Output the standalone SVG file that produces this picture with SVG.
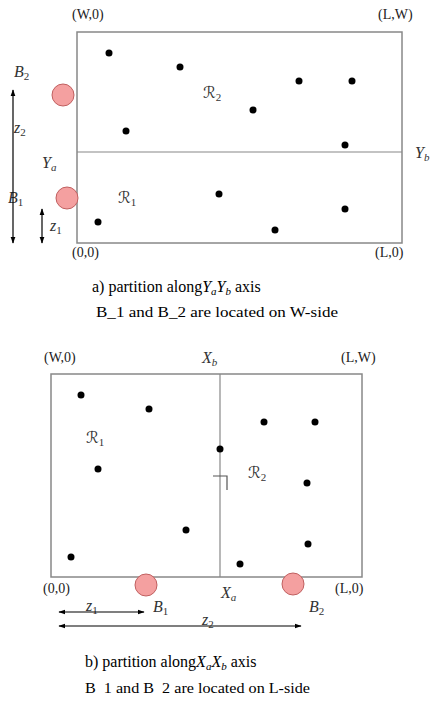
<svg xmlns="http://www.w3.org/2000/svg" width="433" height="701" viewBox="0 0 433 701">
<style>
.box{fill:none;stroke:#888;stroke-width:1.5}
.div{stroke:#888;stroke-width:1.2}
.dot{fill:#000}
.base{fill:#f4a0a0;stroke:#c06060;stroke-width:1}
.coord{font-family:"Liberation Serif",serif;font-size:14px;fill:#222}
.m{font-family:"Liberation Serif","DejaVu Serif",serif;font-style:italic;font-size:16px;fill:#333}
.r{font-family:"DejaVu Sans",sans-serif;font-style:normal;font-size:16px;fill:#333}
.sub{font-size:11px}
.n{font-style:normal;font-family:"Liberation Serif",serif}
.cap{font-family:"Liberation Serif",serif;font-size:16px;fill:#000}
.cap2{font-family:"Liberation Serif",serif;font-size:14px;fill:#000;white-space:pre}
.arr{stroke:#000;stroke-width:1.2;fill:none;marker-start:url(#ah);marker-end:url(#ah)}
</style>
<defs>
<marker id="ah" viewBox="0 0 10 10" refX="9" refY="5" markerWidth="7" markerHeight="7" orient="auto-start-reverse" markerUnits="userSpaceOnUse">
<path d="M0,1.5 L10,5 L0,8.5 Z" fill="#000"/>
</marker>
</defs>
<rect width="433" height="701" fill="#fff"/>

<g id="diagramA">
<rect class="box" x="77" y="32" width="325" height="211"/>
<line class="div" x1="77" y1="152" x2="402" y2="152"/>
<g id="dotsA">
<circle class="dot" cx="109" cy="53" r="3.5"/>
<circle class="dot" cx="180" cy="67" r="3.5"/>
<circle class="dot" cx="126" cy="131" r="3.5"/>
<circle class="dot" cx="299" cy="81" r="3.5"/>
<circle class="dot" cx="352" cy="81" r="3.5"/>
<circle class="dot" cx="253" cy="110" r="3.5"/>
<circle class="dot" cx="345" cy="145" r="3.5"/>
<circle class="dot" cx="219" cy="194" r="3.5"/>
<circle class="dot" cx="345" cy="209" r="3.5"/>
<circle class="dot" cx="275" cy="230" r="3.5"/>
<circle class="dot" cx="98" cy="222" r="3.5"/>
</g>
<g id="baseA2"><circle class="base" cx="63" cy="95" r="11"/></g>
<g id="baseA1"><circle class="base" cx="67" cy="198" r="11"/></g>
<text class="coord" x="72" y="19">(W,0)</text>
<text class="coord" x="378" y="19">(L,W)</text>
<text class="coord" x="72" y="257">(0,0)</text>
<text class="coord" x="375" y="257">(L,0)</text>
<text class="m" x="14" y="77">B<tspan class="sub n" dy="3">2</tspan></text>
<text class="m" x="14" y="133">z<tspan class="sub n" dy="3">2</tspan></text>
<text class="m" x="42" y="168">Y<tspan class="sub" dy="3">a</tspan></text>
<text class="m" x="8" y="203">B<tspan class="sub n" dy="3">1</tspan></text>
<text class="m" x="50" y="231">z<tspan class="sub n" dy="3">1</tspan></text>
<text class="r" x="118" y="203">ℛ<tspan class="sub n" dy="3">1</tspan></text>
<text class="r" x="203" y="98">ℛ<tspan class="sub n" dy="3">2</tspan></text>
<text class="m" x="415" y="158">Y<tspan class="sub" dy="3">b</tspan></text>
<g id="arrowsA">
<line class="arr" x1="13" y1="90" x2="13" y2="243"/>
<line class="arr" x1="42" y1="209" x2="42" y2="243"/>
</g>
<text class="cap" x="92" y="292">a) partition along<tspan font-style="italic">Y<tspan class="sub" dy="3">a</tspan><tspan dy="-3">Y</tspan><tspan class="sub" dy="3">b</tspan></tspan><tspan dy="-3"> axis</tspan></text>
<text class="cap2" x="96" y="317" textLength="242" lengthAdjust="spacingAndGlyphs">B_1 and B_2 are located on W-side</text>
</g>

<g id="diagramB">
<rect class="box" x="51" y="374" width="311" height="203"/>
<line class="div" x1="220" y1="374" x2="220" y2="577"/>
<path d="M213,476 H227 V490" fill="none" stroke="#555" stroke-width="1.2"/>
<g id="dotsB">
<circle class="dot" cx="81" cy="395" r="3.5"/>
<circle class="dot" cx="149" cy="409" r="3.5"/>
<circle class="dot" cx="98" cy="469" r="3.5"/>
<circle class="dot" cx="220" cy="449" r="3.5"/>
<circle class="dot" cx="264" cy="422" r="3.5"/>
<circle class="dot" cx="315" cy="422" r="3.5"/>
<circle class="dot" cx="307" cy="483" r="3.5"/>
<circle class="dot" cx="186" cy="530" r="3.5"/>
<circle class="dot" cx="71" cy="557" r="3.5"/>
<circle class="dot" cx="240" cy="564" r="3.5"/>
<circle class="dot" cx="308" cy="544" r="3.5"/>
</g>
<g id="baseB1"><circle class="base" cx="146" cy="585" r="11"/></g>
<g id="baseB2"><circle class="base" cx="293" cy="584" r="11"/></g>
<text class="coord" x="44" y="362">(W,0)</text>
<text class="coord" x="341" y="362">(L,W)</text>
<text class="coord" x="43" y="593">(0,0)</text>
<text class="coord" x="335" y="593">(L,0)</text>
<text class="m" x="202" y="363">X<tspan class="sub" dy="3">b</tspan></text>
<text class="m" x="221" y="598">X<tspan class="sub" dy="3">a</tspan></text>
<text class="r" x="86" y="443">ℛ<tspan class="sub n" dy="3">1</tspan></text>
<text class="r" x="248" y="478">ℛ<tspan class="sub n" dy="3">2</tspan></text>
<text class="m" x="153" y="612">B<tspan class="sub n" dy="3">1</tspan></text>
<text class="m" x="309" y="612">B<tspan class="sub n" dy="3">2</tspan></text>
<text class="m" x="86" y="611">z<tspan class="sub n" dy="3">1</tspan></text>
<text class="m" x="202" y="625">z<tspan class="sub n" dy="3">2</tspan></text>
<g id="arrowsB">
<line class="arr" x1="59" y1="612" x2="144" y2="612"/>
<line class="arr" x1="59" y1="626" x2="301" y2="626"/>
</g>
<text class="cap" x="85" y="667">b) partition along<tspan font-style="italic">X<tspan class="sub" dy="3">a</tspan><tspan dy="-3">X</tspan><tspan class="sub" dy="3">b</tspan></tspan><tspan dy="-3"> axis</tspan></text>
<text class="cap2" x="85" y="693" textLength="225" lengthAdjust="spacingAndGlyphs">B  1 and B  2 are located on L-side</text>
</g>
</svg>
